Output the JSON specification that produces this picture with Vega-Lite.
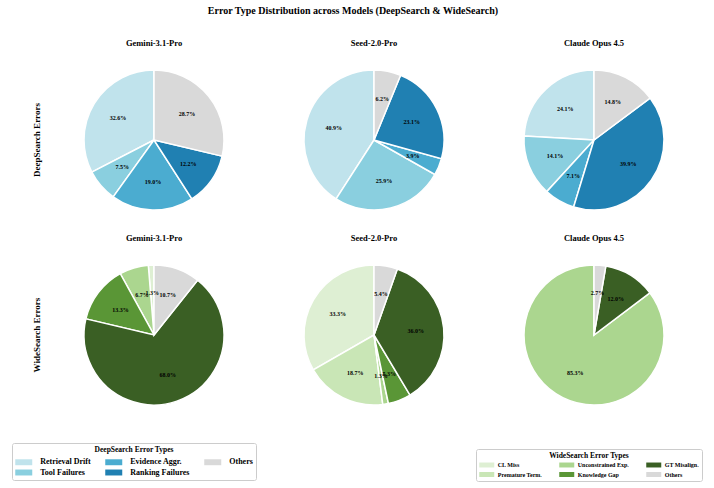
{
  "$schema": "https://vega.github.io/schema/vega-lite/v6.json",
  "background": "white",
  "padding": {"left": 11, "top": 5, "right": 5, "bottom": 4},
  "title": {
    "text": "Error Type Distribution across Models (DeepSearch & WideSearch)",
    "font": "Liberation Serif",
    "fontSize": 10,
    "fontWeight": "bold",
    "anchor": "middle",
    "color": "black",
    "offset": 23,
    "dx": -4
  },
  "datasets": {
    "deep": [
      {"Benchmark": "DeepSearch Errors", "Model": "Gemini-3.1-Pro", "Type": "Retrieval Drift", "Idx": 0, "Share": 0.326},
      {"Benchmark": "DeepSearch Errors", "Model": "Gemini-3.1-Pro", "Type": "Tool Failures", "Idx": 1, "Share": 0.075},
      {"Benchmark": "DeepSearch Errors", "Model": "Gemini-3.1-Pro", "Type": "Evidence Aggr.", "Idx": 2, "Share": 0.190},
      {"Benchmark": "DeepSearch Errors", "Model": "Gemini-3.1-Pro", "Type": "Ranking Failures", "Idx": 3, "Share": 0.122},
      {"Benchmark": "DeepSearch Errors", "Model": "Gemini-3.1-Pro", "Type": "Others", "Idx": 4, "Share": 0.287},
      {"Benchmark": "DeepSearch Errors", "Model": "Seed-2.0-Pro", "Type": "Retrieval Drift", "Idx": 0, "Share": 0.409},
      {"Benchmark": "DeepSearch Errors", "Model": "Seed-2.0-Pro", "Type": "Tool Failures", "Idx": 1, "Share": 0.259},
      {"Benchmark": "DeepSearch Errors", "Model": "Seed-2.0-Pro", "Type": "Evidence Aggr.", "Idx": 2, "Share": 0.039},
      {"Benchmark": "DeepSearch Errors", "Model": "Seed-2.0-Pro", "Type": "Ranking Failures", "Idx": 3, "Share": 0.231},
      {"Benchmark": "DeepSearch Errors", "Model": "Seed-2.0-Pro", "Type": "Others", "Idx": 4, "Share": 0.062},
      {"Benchmark": "DeepSearch Errors", "Model": "Claude Opus 4.5", "Type": "Retrieval Drift", "Idx": 0, "Share": 0.241},
      {"Benchmark": "DeepSearch Errors", "Model": "Claude Opus 4.5", "Type": "Tool Failures", "Idx": 1, "Share": 0.141},
      {"Benchmark": "DeepSearch Errors", "Model": "Claude Opus 4.5", "Type": "Evidence Aggr.", "Idx": 2, "Share": 0.071},
      {"Benchmark": "DeepSearch Errors", "Model": "Claude Opus 4.5", "Type": "Ranking Failures", "Idx": 3, "Share": 0.399},
      {"Benchmark": "DeepSearch Errors", "Model": "Claude Opus 4.5", "Type": "Others", "Idx": 4, "Share": 0.148}
    ],
    "wide": [
      {"Benchmark": "WideSearch Errors", "Model": "Gemini-3.1-Pro", "Type": "CL Miss", "Idx": 0, "Share": 0.013},
      {"Benchmark": "WideSearch Errors", "Model": "Gemini-3.1-Pro", "Type": "Unconstrained Exp.", "Idx": 2, "Share": 0.067},
      {"Benchmark": "WideSearch Errors", "Model": "Gemini-3.1-Pro", "Type": "Knowledge Gap", "Idx": 3, "Share": 0.133},
      {"Benchmark": "WideSearch Errors", "Model": "Gemini-3.1-Pro", "Type": "GT Misalign.", "Idx": 4, "Share": 0.680},
      {"Benchmark": "WideSearch Errors", "Model": "Gemini-3.1-Pro", "Type": "Others", "Idx": 5, "Share": 0.107},
      {"Benchmark": "WideSearch Errors", "Model": "Seed-2.0-Pro", "Type": "CL Miss", "Idx": 0, "Share": 0.333},
      {"Benchmark": "WideSearch Errors", "Model": "Seed-2.0-Pro", "Type": "Premature Term.", "Idx": 1, "Share": 0.187},
      {"Benchmark": "WideSearch Errors", "Model": "Seed-2.0-Pro", "Type": "Unconstrained Exp.", "Idx": 2, "Share": 0.013},
      {"Benchmark": "WideSearch Errors", "Model": "Seed-2.0-Pro", "Type": "Knowledge Gap", "Idx": 3, "Share": 0.053},
      {"Benchmark": "WideSearch Errors", "Model": "Seed-2.0-Pro", "Type": "GT Misalign.", "Idx": 4, "Share": 0.360},
      {"Benchmark": "WideSearch Errors", "Model": "Seed-2.0-Pro", "Type": "Others", "Idx": 5, "Share": 0.054},
      {"Benchmark": "WideSearch Errors", "Model": "Claude Opus 4.5", "Type": "Unconstrained Exp.", "Idx": 2, "Share": 0.853},
      {"Benchmark": "WideSearch Errors", "Model": "Claude Opus 4.5", "Type": "GT Misalign.", "Idx": 4, "Share": 0.120},
      {"Benchmark": "WideSearch Errors", "Model": "Claude Opus 4.5", "Type": "Others", "Idx": 5, "Share": 0.027}
    ]
  },
  "spacing": 10,
  "vconcat": [
    {
      "data": {"name": "deep"},
      "facet": {
        "row": {"field": "Benchmark", "type": "nominal", "title": null},
        "column": {"field": "Model", "type": "nominal", "title": null, "sort": ["Gemini-3.1-Pro", "Seed-2.0-Pro", "Claude Opus 4.5"]}
      },
      "spacing": {"column": 40, "row": 0},
      "spec": {
        "width": 180,
        "height": 166,
        "layer": [
          {
            "mark": {"type": "arc", "outerRadius": 70, "stroke": "white", "strokeWidth": 1.5},
            "encoding": {
              "theta": {"field": "Share", "type": "quantitative", "stack": true},
              "order": {"field": "Idx", "type": "quantitative", "sort": "descending"},
              "fill": {
                "field": "Type",
                "type": "nominal",
                "scale": {
                  "domain": ["Retrieval Drift", "Tool Failures", "Evidence Aggr.", "Ranking Failures", "Others"],
                  "range": ["#c0e3ec", "#8acfdf", "#4bacd0", "#2080b2", "#d9d9d9"]
                },
                "legend": {
                  "title": "DeepSearch Error Types",
                  "orient": "none",
                  "legendX": -52,
                  "legendY": 386,
                  "columns": 3,
                  "columnPadding": 14,
                  "rowPadding": 1.5,
                  "titlePadding": 4,
                  "symbolType": "M-2,-0.7L2,-0.7L2,0.7L-2,0.7Z",
                  "symbolSize": 72.25,
                  "symbolOffset": 4.25,
                  "labelOffset": 12,
                  "symbolStrokeWidth": 0,
                  "labelFontSize": 8,
                  "titleFontSize": 7.5,
                  "strokeColor": "#cccccc",
                  "fillColor": "white",
                  "cornerRadius": 2,
                  "padding": 3
                }
              }
            }
          },
          {
            "mark": {"type": "text", "radius": 42, "font": "Liberation Serif", "fontSize": 6, "fontWeight": "bold", "color": "black"},
            "encoding": {
              "theta": {"field": "Share", "type": "quantitative", "stack": true},
              "order": {"field": "Idx", "type": "quantitative", "sort": "descending"},
              "text": {"field": "Share", "type": "quantitative", "format": ".1%"}
            }
          }
        ]
      }
    },
    {
      "data": {"name": "wide"},
      "facet": {
        "row": {"field": "Benchmark", "type": "nominal", "title": null},
        "column": {"field": "Model", "type": "nominal", "title": null, "sort": ["Gemini-3.1-Pro", "Seed-2.0-Pro", "Claude Opus 4.5"]}
      },
      "spacing": {"column": 40, "row": 0},
      "spec": {
        "width": 180,
        "height": 166,
        "layer": [
          {
            "mark": {"type": "arc", "outerRadius": 70, "stroke": "white", "strokeWidth": 1.5},
            "encoding": {
              "theta": {"field": "Share", "type": "quantitative", "stack": true},
              "order": {"field": "Idx", "type": "quantitative", "sort": "descending"},
              "color": {
                "field": "Type",
                "type": "nominal",
                "scale": {
                  "domain": ["CL Miss", "Premature Term.", "Unconstrained Exp.", "Knowledge Gap", "GT Misalign.", "Others"],
                  "range": ["#deefd3", "#c9e6b6", "#abd68f", "#5a9636", "#3a5f24", "#d9d9d9"]
                },
                "legend": {
                  "title": "WideSearch Error Types",
                  "orient": "none",
                  "legendX": 412,
                  "legendY": 392,
                  "columns": 3,
                  "columnPadding": 17,
                  "rowPadding": 2.5,
                  "titlePadding": 1.5,
                  "symbolType": "M-2,-0.66L2,-0.66L2,0.66L-2,0.66Z",
                  "symbolSize": 56.25,
                  "symbolOffset": 3.75,
                  "labelOffset": 7,
                  "symbolStrokeWidth": 0,
                  "labelFontSize": 6,
                  "titleFontSize": 7.5,
                  "strokeColor": "#cccccc",
                  "fillColor": "white",
                  "cornerRadius": 2,
                  "padding": 3
                }
              }
            }
          },
          {
            "mark": {"type": "text", "radius": 42, "font": "Liberation Serif", "fontSize": 6, "fontWeight": "bold", "color": "black"},
            "encoding": {
              "theta": {"field": "Share", "type": "quantitative", "stack": true},
              "order": {"field": "Idx", "type": "quantitative", "sort": "descending"},
              "text": {"field": "Share", "type": "quantitative", "format": ".1%"}
            }
          }
        ]
      }
    }
  ],
  "config": {
    "view": {"stroke": null},
    "font": "Liberation Serif",
    "header": {
      "labelFont": "Liberation Serif",
      "labelFontWeight": "bold",
      "labelColor": "black"
    },
    "headerColumn": {"labelFontSize": 8.5, "labelPadding": 10},
    "headerRow": {"labelFontSize": 9, "labelAngle": -90, "labelOrient": "left", "labelPadding": 18},
    "legend": {
      "labelFont": "Liberation Serif",
      "labelFontWeight": "bold",
      "labelColor": "black",
      "titleFont": "Liberation Serif",
      "titleFontWeight": "bold",
      "titleColor": "black",
      "titleAnchor": "middle"
    }
  }
}
